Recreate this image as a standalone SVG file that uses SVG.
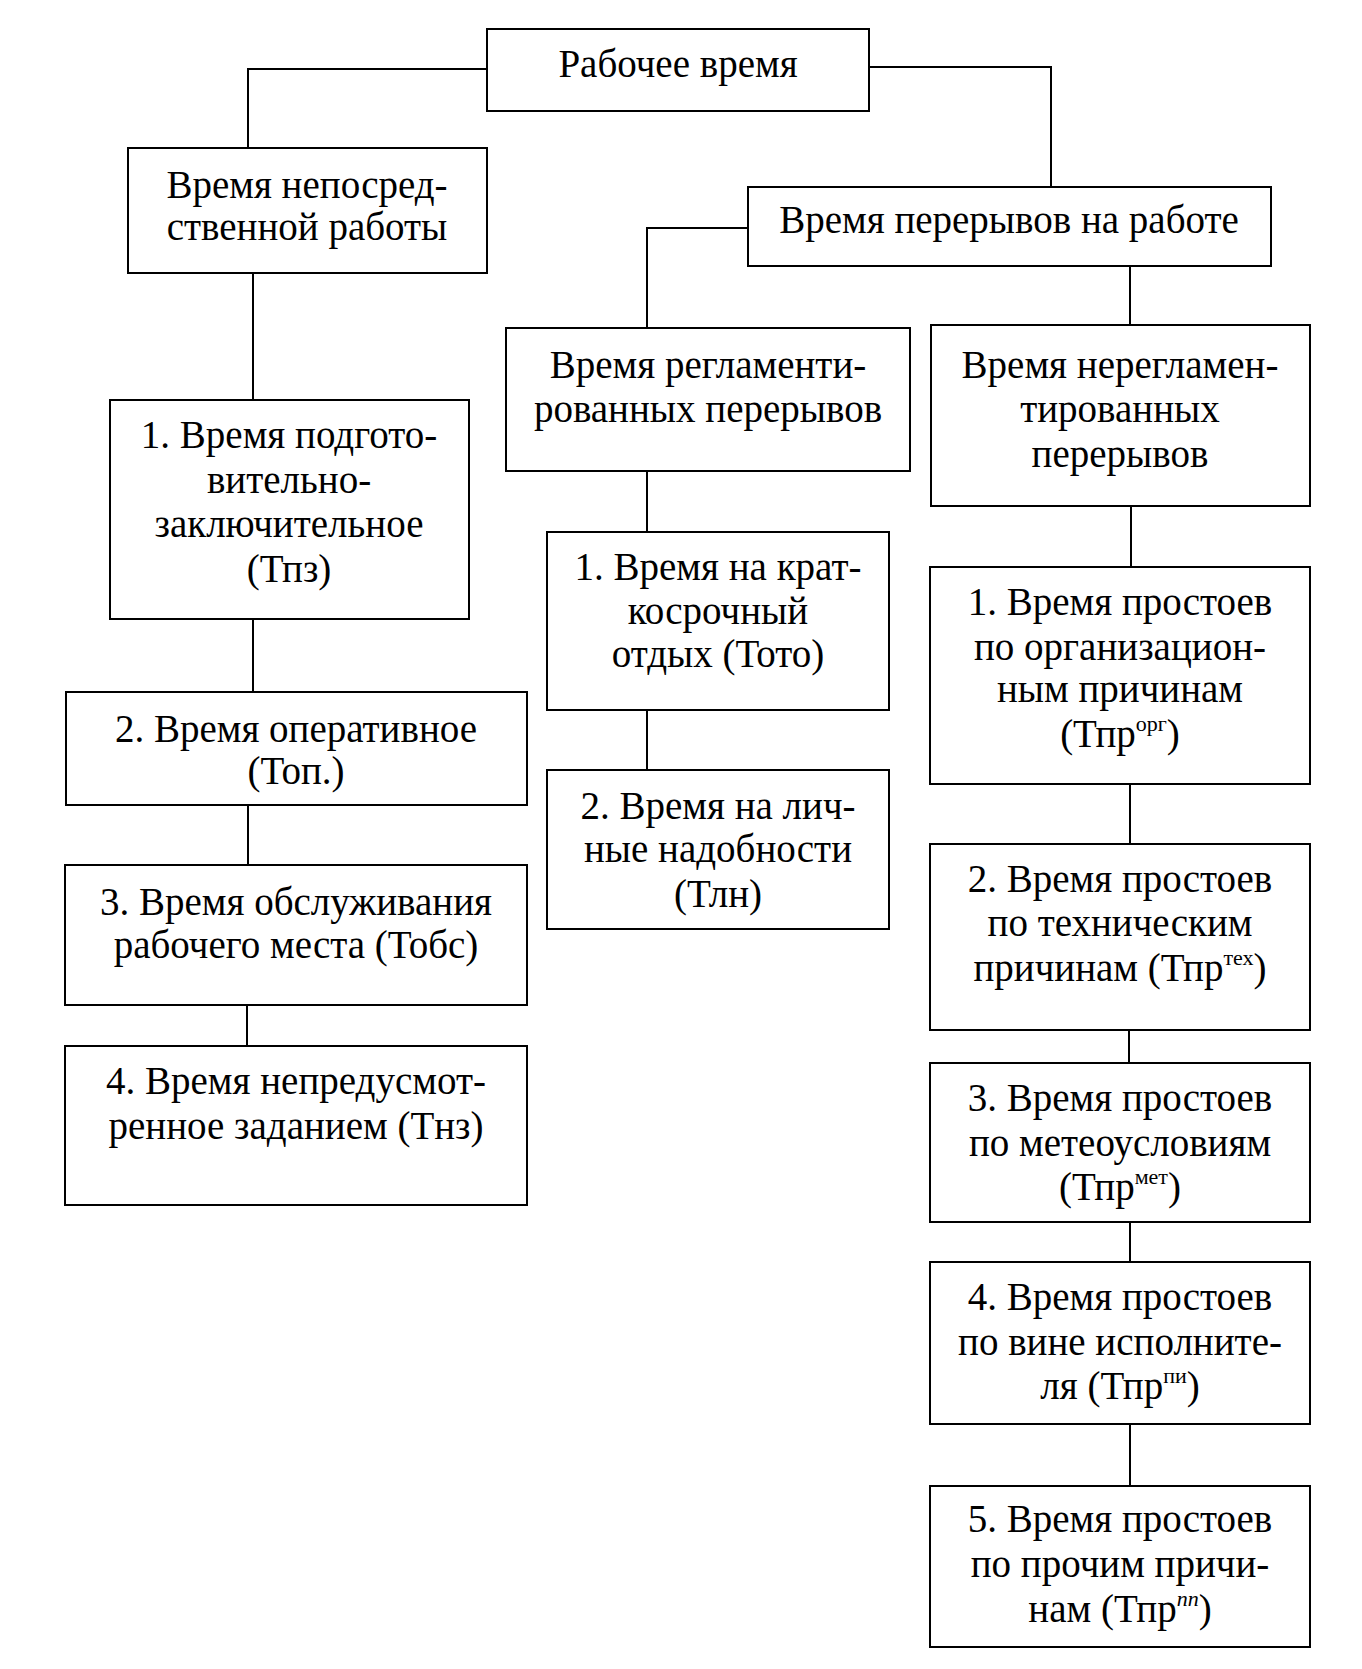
<svg xmlns="http://www.w3.org/2000/svg" width="1362" height="1669" viewBox="0 0 1362 1669">
<style>
rect{fill:#fff;stroke:#000;stroke-width:2}
text{font-family:"Liberation Serif","Times New Roman",serif;font-size:39px;fill:#000;text-anchor:middle}
.c path{fill:none;stroke:#000;stroke-width:2}
.s{font-size:22px}
</style>
<g class="c" id="connectors">
<path d="M487 69H248V148"/>
<path d="M869 67H1051V187"/>
<path d="M748 228H647V328"/>
<path d="M1130 266V325"/>
<path d="M253 273V400"/>
<path d="M253 619V692"/>
<path d="M248 805V865"/>
<path d="M247 1005V1046"/>
<path d="M647 471V532"/>
<path d="M647 710V770"/>
<path d="M1131 506V567"/>
<path d="M1130 784V844"/>
<path d="M1129 1030V1063"/>
<path d="M1130 1222V1262"/>
<path d="M1130 1424V1486"/>
</g>
<g id="root"><rect x="487" y="29" width="382" height="82"/><text x="678" y="77">Рабочее время</text></g>
<g id="direct"><rect x="128" y="148" width="359" height="125"/><text x="307" y="198">Время непосред-</text><text x="307" y="240">ственной работы</text></g>
<g id="breaks"><rect x="748" y="187" width="523" height="79"/><text x="1009" y="233">Время перерывов на работе</text></g>
<g id="reg"><rect x="506" y="328" width="404" height="143"/><text x="708" y="378">Время регламенти-</text><text x="708" y="422">рованных перерывов</text></g>
<g id="nonreg"><rect x="931" y="325" width="379" height="181"/><text x="1120" y="378">Время нерегламен-</text><text x="1120" y="422">тированных</text><text x="1120" y="467">перерывов</text></g>
<g id="l1"><rect x="110" y="400" width="359" height="219"/><text x="289" y="448">1. Время подгото-</text><text x="289" y="493">вительно-</text><text x="289" y="537">заключительное</text><text x="289" y="582">(Тпз)</text></g>
<g id="l2"><rect x="66" y="692" width="461" height="113"/><text x="296" y="742">2. Время оперативное</text><text x="296" y="784">(Топ.)</text></g>
<g id="l3"><rect x="65" y="865" width="462" height="140"/><text x="296" y="915">3. Время обслуживания</text><text x="296" y="958">рабочего места (Тобс)</text></g>
<g id="l4"><rect x="65" y="1046" width="462" height="159"/><text x="296" y="1094">4. Время непредусмот-</text><text x="296" y="1139">ренное заданием (Тнз)</text></g>
<g id="r1"><rect x="547" y="532" width="342" height="178"/><text x="718" y="580">1. Время на крат-</text><text x="718" y="624">косрочный</text><text x="718" y="667">отдых (Тото)</text></g>
<g id="r2"><rect x="547" y="770" width="342" height="159"/><text x="718" y="819">2. Время на лич-</text><text x="718" y="862">ные надобности</text><text x="718" y="907">(Тлн)</text></g>
<g id="n1"><rect x="930" y="567" width="380" height="217"/><text x="1120" y="615">1. Время простоев</text><text x="1120" y="660">по организацион-</text><text x="1120" y="702">ным причинам</text><text x="1120" y="747">(Тпр<tspan class="s" dy="-16">орг</tspan><tspan dy="16">)</tspan></text></g>
<g id="n2"><rect x="930" y="844" width="380" height="186"/><text x="1120" y="892">2. Время простоев</text><text x="1120" y="936">по техническим</text><text x="1120" y="981">причинам (Тпр<tspan class="s" dy="-16">тех</tspan><tspan dy="16">)</tspan></text></g>
<g id="n3"><rect x="930" y="1063" width="380" height="159"/><text x="1120" y="1111">3. Время простоев</text><text x="1120" y="1156">по метеоусловиям</text><text x="1120" y="1200">(Тпр<tspan class="s" dy="-16">мет</tspan><tspan dy="16">)</tspan></text></g>
<g id="n4"><rect x="930" y="1262" width="380" height="162"/><text x="1120" y="1310">4. Время простоев</text><text x="1120" y="1355">по вине исполните-</text><text x="1120" y="1399">ля (Тпр<tspan class="s" dy="-16">пи</tspan><tspan dy="16">)</tspan></text></g>
<g id="n5"><rect x="930" y="1486" width="380" height="161"/><text x="1120" y="1532">5. Время простоев</text><text x="1120" y="1577">по прочим причи-</text><text x="1120" y="1622">нам (Тпр<tspan class="s" dy="-16" font-style="italic">пп</tspan><tspan dy="16">)</tspan></text></g>
</svg>
